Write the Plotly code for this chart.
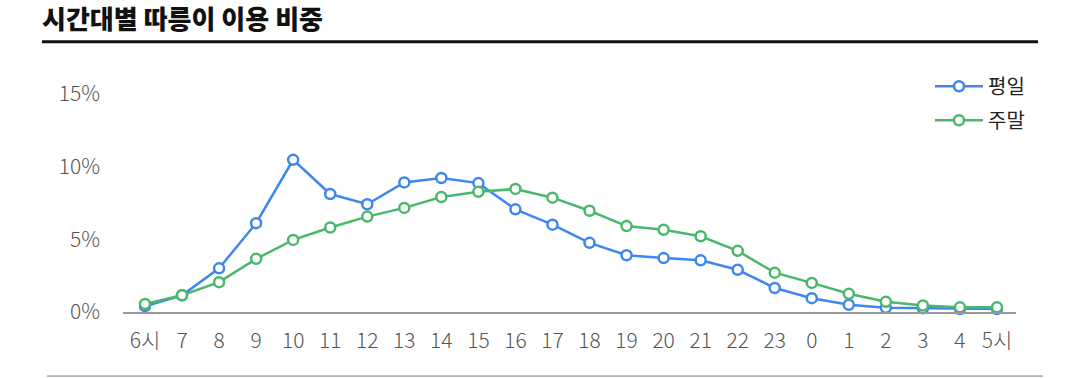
import plotly.graph_objects as go

hours = ["6시", "7", "8", "9", "10", "11", "12", "13", "14", "15", "16", "17",
         "18", "19", "20", "21", "22", "23", "0", "1", "2", "3", "4", "5시"]
weekday = [0.4, 1.15, 3.0, 6.1, 10.45, 8.1, 7.4, 8.9, 9.2, 8.85, 7.05, 6.0,
           4.75, 3.9, 3.7, 3.55, 2.9, 1.65, 0.95, 0.5, 0.3, 0.25, 0.2, 0.2]
weekend = [0.55, 1.15, 2.05, 3.65, 4.95, 5.8, 6.55, 7.15, 7.9, 8.25, 8.45, 7.85,
           6.95, 5.9, 5.65, 5.2, 4.2, 2.7, 2.0, 1.25, 0.7, 0.45, 0.32, 0.32]
y_ticks = [0, 5, 10, 15]
y_tick_labels = ["0%", "5%", "10%", "15%"]

BLUE = "#3F87EF"
GREEN = "#4AB86C"
FONT = "Noto Sans CJK KR"

W, H = 1080, 378
L, R, T, B = 123, 1016, 79.2, 312

def px(x):
    return (x - L) / (R - L)

def py(y):
    return (B - y) / (B - T)

fig = go.Figure()
for name, vals, col, grp in [("평일", weekday, BLUE, "a"), ("주말", weekend, GREEN, "b")]:
    fig.add_trace(go.Scatter(
        x=list(range(len(hours))), y=vals, name=name, mode="lines+markers",
        legendgroup=grp,
        line=dict(color=col, width=2.5),
        marker=dict(size=10, color="white", line=dict(color=col, width=2.5)),
        cliponaxis=False,
    ))

fig.update_layout(
    width=W, height=H,
    margin=dict(l=L, r=W - R, t=T, b=H - B),
    paper_bgcolor="white", plot_bgcolor="white",
    font=dict(family=FONT, color="#555555", size=18),
    showlegend=True,
    legend=dict(x=px(930), y=py(67), xanchor="left", yanchor="top",
                font=dict(size=20, color="#222222"), tracegroupgap=5,
                itemwidth=48, bgcolor="rgba(0,0,0,0)"),
    xaxis=dict(range=[-0.594, 23.513], tickmode="array",
               tickvals=list(range(len(hours))), ticktext=hours,
               showgrid=False, zeroline=False, showline=True,
               linecolor="#999999", linewidth=1.5, ticks="",
               ticklabelstandoff=9,
               tickfont=dict(size=21, color="#555555", weight=300)),
    yaxis=dict(range=[0, 16], tickmode="array", tickvals=y_ticks,
               ticktext=y_tick_labels, showgrid=False, zeroline=False,
               showline=False, ticks="", ticklabelstandoff=22,
               tickfont=dict(size=21, color="#555555", weight=300)),
)

fig.add_annotation(text="시간대별 따릉이 이용 비중", xref="paper", yref="paper",
                   x=px(40), y=py(18), xanchor="left", yanchor="middle",
                   showarrow=False,
                   font=dict(size=26, color="#111111", family=FONT, weight=900))
fig.add_shape(type="line", xref="paper", yref="paper", x0=px(42), x1=px(1038),
              y0=py(42), y1=py(42), line=dict(color="#111111", width=3))
fig.add_shape(type="line", xref="paper", yref="paper", x0=px(47), x1=px(1043),
              y0=py(376), y1=py(376), line=dict(color="#777777", width=1))

fig.write_html("out.html", config={"displayModeBar": False},
               post_script="document.body.style.margin='0';document.body.style.overflow='hidden';")
